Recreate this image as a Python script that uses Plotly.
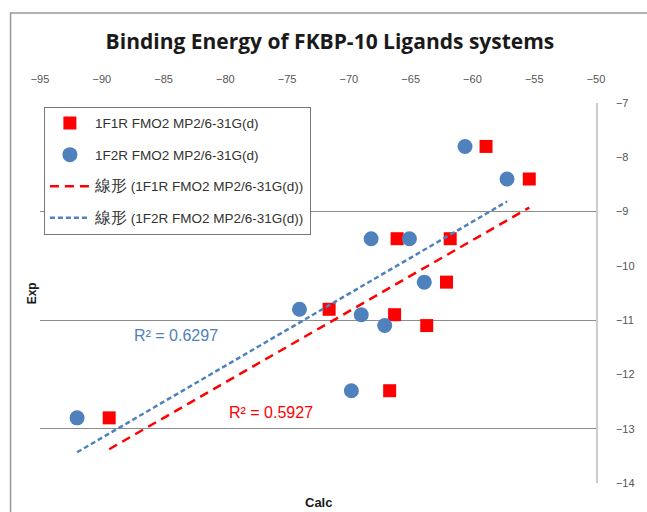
import numpy as np
import plotly.graph_objects as go

# Data
calc_1f1r = [-58.9, -55.4, -66.1, -61.8, -62.1, -63.7, -66.3, -71.6, -66.7, -89.4]
exp_1f1r = [-7.8, -8.4, -9.5, -9.5, -10.3, -11.1, -10.9, -10.8, -12.3, -12.8]
calc_1f2r = [-60.6, -57.2, -68.2, -65.1, -63.9, -69.0, -67.1, -74.0, -69.8, -92.0]
exp_1f2r = [-7.8, -8.4, -9.5, -9.5, -10.3, -10.9, -11.1, -10.8, -12.3, -12.8]
x_ticks = [-95, -90, -85, -80, -75, -70, -65, -60, -55, -50]
y_ticks = [-7, -8, -9, -10, -11, -12, -13, -14]
grid_vals = [-9, -11, -13]
r2_labels = ["R² = 0.5927", "R² = 0.6297"]

RED = "#FF0000"
BLUE = "#4F81BD"
CJK = "<span style='font-size:16px'>線形</span>"

def fit(xs, ys):
    xs = np.array(xs); ys = np.array(ys)
    m, b = np.polyfit(xs, ys, 1)
    xl = np.array([xs.min(), xs.max()])
    return xl, m * xl + b

fig = go.Figure()
fig.add_trace(go.Scatter(x=calc_1f1r, y=exp_1f1r, mode="markers",
                         name="1F1R FMO2 MP2/6-31G(d)", legendgroup="a",
                         marker=dict(symbol="square", size=13, color=RED)))
fig.add_trace(go.Scatter(x=calc_1f2r, y=exp_1f2r, mode="markers",
                         name="1F2R FMO2 MP2/6-31G(d)", legendgroup="b",
                         marker=dict(symbol="circle", size=15, color=BLUE)))
xl, yl = fit(calc_1f1r, exp_1f1r)
fig.add_trace(go.Scatter(x=xl, y=yl, mode="lines", legendgroup="c",
                         name=CJK + " (1F1R FMO2 MP2/6-31G(d))",
                         line=dict(color=RED, width=2.5, dash="9px,6px")))
xl2, yl2 = fit(calc_1f2r, exp_1f2r)
fig.add_trace(go.Scatter(x=xl2, y=yl2, mode="lines", legendgroup="d",
                         name=CJK + " (1F2R FMO2 MP2/6-31G(d))",
                         line=dict(color=BLUE, width=2.5, dash="5px,3px")))

# invisible trace on second y axis to carry the gridlines
fig.add_trace(go.Scatter(x=[x_ticks[0]], y=[y_ticks[0]], yaxis="y2",
                         mode="markers", marker=dict(opacity=0),
                         showlegend=False, hoverinfo="skip"))

fig.update_layout(
    width=647, height=512,
    paper_bgcolor="white", plot_bgcolor="white",
    margin=dict(l=40, r=41, t=103, b=29),
    font=dict(family="Liberation Sans, Arial, sans-serif", color="#404040"),
    title=dict(text="<b>Binding Energy of FKBP-10 Ligands systems</b>",
               x=0.51, xanchor="center", y=0.918, yanchor="middle",
               font=dict(size=21, color="#1a1a1a", family="Open Sans, sans-serif")),
    xaxis=dict(range=[-95, -50], side="top", tickvals=x_ticks,
               ticktext=[f"−{abs(v)}" for v in x_ticks],
               showgrid=False, zeroline=False, showline=False,
               ticks="", ticklabelstandoff=17,
               tickfont=dict(size=11, color="#555555")),
    yaxis=dict(range=[-14, -7], side="right", tickvals=y_ticks,
               showgrid=False, zeroline=False, showline=True,
               linecolor="#cccccc", linewidth=1.5, ticks="",
               ticklabelstandoff=16,
               tickfont=dict(size=11, color="#555555")),
    yaxis2=dict(range=[-14, -7], overlaying="y", side="left",
                tickvals=grid_vals, showticklabels=False,
                showgrid=True, gridcolor="#8c8c8c", gridwidth=1.2,
                zeroline=False, showline=False, ticks=""),
    legend=dict(x=0.007, y=0.99, xanchor="left", yanchor="top",
                bgcolor="white", bordercolor="#777777", borderwidth=1,
                font=dict(size=13.5, color="#333333"),
                itemwidth=40, tracegroupgap=11),
    showlegend=True,
)

fig.add_annotation(x=-84.0, y=-11.28, text=r2_labels[1], showarrow=False,
                   font=dict(size=16, color=BLUE))
fig.add_annotation(x=-76.3, y=-12.7, text=r2_labels[0], showarrow=False,
                   font=dict(size=16, color=RED))
fig.add_annotation(xref="paper", yref="paper", x=-0.03, y=0.5,
                   text="<b>Exp</b>", textangle=-90, showarrow=False,
                   font=dict(size=12, color="#1a1a1a"))
fig.add_annotation(xref="paper", yref="paper", x=0.5, y=-0.05,
                   yanchor="middle", text="<b>Calc</b>", showarrow=False,
                   font=dict(size=13, color="#1a1a1a"))

# outer chart frame
fig.add_shape(type="rect", xref="paper", yref="paper",
              x0=-0.053, y0=-0.3, x1=1.1, y1=1.237,
              line=dict(color="#9a9a9a", width=1.5), layer="below")

fig.write_html("out.html", config={"displayModeBar": False},
               post_script="document.body.style.margin='0';document.body.style.padding='0';")
